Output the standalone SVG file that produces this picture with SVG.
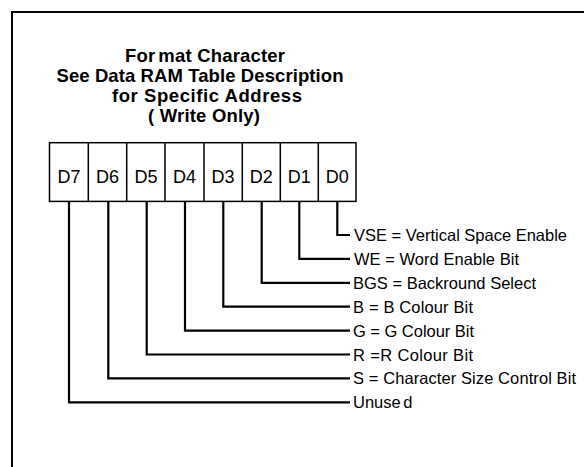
<svg xmlns="http://www.w3.org/2000/svg" width="584" height="467" viewBox="0 0 584 467">
<style>
.frame{fill:none;stroke:#000;stroke-width:2}
.cell{fill:#fff;stroke:#000;stroke-width:1.5}
.conn{fill:none;stroke:#000;stroke-width:2.2}
.title{font-family:"Liberation Sans",Arial,sans-serif;font-weight:bold;font-size:18.5px;text-anchor:middle;fill:#000}
.bit{font-family:"Liberation Sans",Arial,sans-serif;font-size:18px;text-anchor:middle;fill:#000}
.lbl{font-family:"Liberation Sans",Arial,sans-serif;font-size:16.5px;fill:#000}
</style>
<rect width="584" height="467" fill="#fff"/>
<path class="frame" d="M12,470 L12,12 L590,12"/>
<g id="title">
<text class="title" x="205" y="62" textLength="160" lengthAdjust="spacing">For<tspan dx="3">mat Character</tspan></text>
<text class="title" x="200" y="82" textLength="287" lengthAdjust="spacing">See Data RAM Table Description</text>
<text class="title" x="207" y="102" textLength="190" lengthAdjust="spacing">for Specific Address</text>
<text class="title" x="204" y="122" textLength="112" lengthAdjust="spacing">( Write Only)</text>
</g>
<g id="register">
<rect class="cell" x="49.5" y="142.7" width="306.5" height="58.7"/>
<path class="cell" d="M88.3,142.7V201.4M126.7,142.7V201.4M165,142.7V201.4M204,142.7V201.4M242.3,142.7V201.4M280.3,142.7V201.4M318.3,142.7V201.4"/>
<g id="D7"><text class="bit" x="69" y="182.5">D7</text></g>
<g id="D6"><text class="bit" x="107.5" y="182.5">D6</text></g>
<g id="D5"><text class="bit" x="146" y="182.5">D5</text></g>
<g id="D4"><text class="bit" x="184.5" y="182.5">D4</text></g>
<g id="D3"><text class="bit" x="223" y="182.5">D3</text></g>
<g id="D2"><text class="bit" x="261.3" y="182.5">D2</text></g>
<g id="D1"><text class="bit" x="299.3" y="182.5">D1</text></g>
<g id="D0"><text class="bit" x="337.3" y="182.5">D0</text></g>
</g>
<g id="connectors">
<path class="conn" d="M337.3,201.4V235H350"/>
<path class="conn" d="M299.3,201.4V258.9H350"/>
<path class="conn" d="M261.7,201.4V282.8H350"/>
<path class="conn" d="M223.3,201.4V306.7H350"/>
<path class="conn" d="M185,201.4V330.6H350"/>
<path class="conn" d="M146.7,201.4V354.5H350"/>
<path class="conn" d="M108.3,201.4V378.4H350"/>
<path class="conn" d="M69,201.4V402.3H350"/>
</g>
<g id="labels">
<g id="VSE"><text class="lbl" x="354" y="241" textLength="213" lengthAdjust="spacing">VSE = Vertical Space Enable</text></g>
<g id="WE"><text class="lbl" x="354" y="264.9" textLength="165" lengthAdjust="spacing">WE = Word Enable Bit</text></g>
<g id="BGS"><text class="lbl" x="353" y="288.8" textLength="183" lengthAdjust="spacing">BGS = Backround Select</text></g>
<g id="B"><text class="lbl" x="353" y="312.7" textLength="120" lengthAdjust="spacing">B = B Colour Bit</text></g>
<g id="G"><text class="lbl" x="353" y="336.6" textLength="121" lengthAdjust="spacing">G = G Colour Bit</text></g>
<g id="R"><text class="lbl" x="353" y="360.5" textLength="120" lengthAdjust="spacing">R =R Colour Bit</text></g>
<g id="S"><text class="lbl" x="353" y="384.4" textLength="223" lengthAdjust="spacing">S = Character Size Control Bit</text></g>
<g id="Unused"><text class="lbl" x="353" y="408.3">Unuse<tspan dx="2.5">d</tspan></text></g>
</g>
</svg>
